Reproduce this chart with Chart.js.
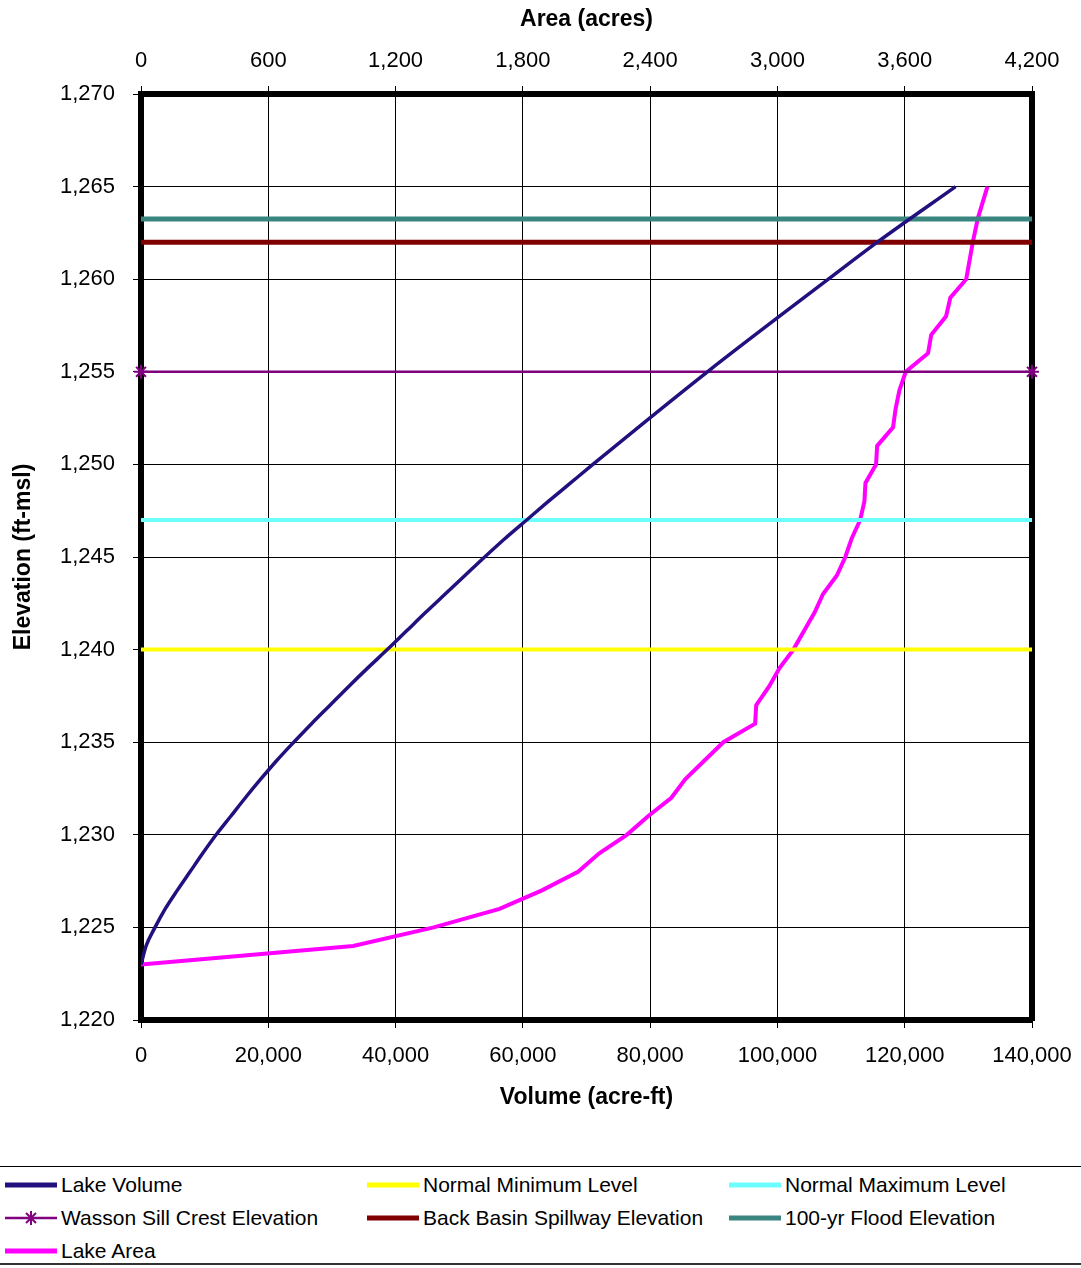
<!DOCTYPE html>
<html>
<head>
<meta charset="utf-8">
<script src="https://cdn.jsdelivr.net/npm/chart.js@4/dist/chart.umd.min.js"></script>
<style>
    body { margin: 0; background: #fff; font-family: "Liberation Sans", Arial, sans-serif; }
    .wrap { position: relative; width: 1081px; height: 1268px; }
    .chart-box { position: absolute; left: 0; top: 0; width: 1081px; height: 1130px; }
    .legend { position: absolute; left: 0; top: 1166px; width: 1081px; height: 99px;
        border-top: 1px solid #000; border-bottom: 2px solid #333; box-sizing: border-box; }
    .legend-item { position: absolute; height: 30px; display: flex; align-items: center;
        font-size: 21px; color: #000; white-space: nowrap; }
    .legend-item canvas { margin-right: 2px; }
</style>
</head>
<body>
<div class="wrap">
    <div class="chart-box"><canvas id="lakeChart"></canvas></div>
    <div class="legend"></div>
</div>
<script>
// elevation (ft-msl) vs storage volume (acre-ft)
const volumeElev = [1223, 1224, 1225, 1226, 1227, 1228, 1229, 1230, 1231, 1232, 1233, 1234, 1235, 1236,
    1237, 1238, 1239, 1240, 1241, 1242, 1243, 1244, 1245, 1246, 1247, 1248, 1249, 1250, 1255, 1260, 1262, 1265];
const volumeValues = [0, 800, 2200, 3800, 5700, 7700, 9700, 11800, 14100, 16400, 18800, 21300, 24000, 26800,
    29700, 32600, 35600, 38700, 41700, 44700, 47800, 50900, 54000, 57200, 60600, 64000, 67500, 71000,
    89000, 108000, 115700, 128000];

// elevation (ft-msl) vs lake surface area (acres)
const areaElev = [1223, 1224, 1225, 1226, 1227, 1228, 1229, 1230, 1231, 1232, 1233, 1234, 1235, 1236, 1237,
    1238, 1239, 1240, 1241, 1242, 1243, 1244, 1245, 1246, 1247, 1248, 1249, 1250, 1251, 1252, 1253, 1254,
    1255, 1256, 1257, 1258, 1259, 1260, 1262, 1263.3, 1265];
const areaValues = [0, 1000, 1380, 1690, 1890, 2060, 2160, 2290, 2390, 2500, 2565, 2655, 2745, 2895, 2900,
    2960, 3010, 3075, 3125, 3175, 3215, 3280, 3320, 3350, 3390, 3410, 3415, 3465, 3470, 3545, 3557, 3575,
    3605, 3710, 3725, 3795, 3815, 3890, 3921, 3945, 3990];

// reference levels
const levelNames = ["Normal Minimum Level", "Normal Maximum Level", "Wasson Sill Crest Elevation",
    "Back Basin Spillway Elevation", "100-yr Flood Elevation"];
const levelElev = [1240, 1247, 1255, 1262, 1263.25];
const levelSpan = [0, 140000];

const volumeTicks = [0, 140000, 20000];
const areaTicks = [0, 4200, 600];
const elevTicks = [1220, 1270, 5];

const FONT = '"Liberation Sans", Arial, sans-serif';
Chart.defaults.font.family = FONT;
Chart.defaults.color = '#000';

function pairs(xs, ys) {
    const out = [];
    for (let i = 0; i < xs.length; i++) {
        out.push({ x: xs[i], y: ys[i] });
    }
    return out;
}

function levelLine(i, color, width, extra) {
    return Object.assign({
        label: levelNames[i],
        data: levelSpan.map(v => ({ x: v, y: levelElev[i] })),
        borderColor: color,
        backgroundColor: color,
        borderWidth: width,
        pointRadius: 0,
        xAxisID: 'x',
        yAxisID: 'y'
    }, extra || {});
}

const datasets = [
    {
        label: 'Lake Volume',
        data: pairs(volumeValues, volumeElev),
        borderColor: '#22107f',
        backgroundColor: '#22107f',
        borderWidth: 3.5,
        pointRadius: 0,
        cubicInterpolationMode: 'monotone',
        xAxisID: 'x',
        yAxisID: 'y'
    },
    levelLine(0, '#ffff00', 4),
    levelLine(1, '#6cffff', 4),
    levelLine(2, '#800080', 2.5, {
        pointStyle: 'star', pointRadius: 7, pointBorderWidth: 2, clip: false
    }),
    levelLine(3, '#800000', 5),
    levelLine(4, '#3a8580', 5),
    {
        label: 'Lake Area',
        data: pairs(areaValues, areaElev),
        borderColor: '#ff00ff',
        backgroundColor: '#ff00ff',
        borderWidth: 4,
        pointRadius: 0,
        xAxisID: 'x2',
        yAxisID: 'y'
    }
];

const tickFont = { size: 22, family: FONT };
const titleFont = { size: 23, weight: 'bold', family: FONT };

const chart = new Chart(document.getElementById('lakeChart'), {
    type: 'line',
    data: { datasets: datasets },
    options: {
        responsive: true,
        maintainAspectRatio: false,
        devicePixelRatio: 1,
        animation: false,
        layout: { padding: 0 },
        plugins: { legend: { display: false }, tooltip: { enabled: false } },
        scales: {
            x: {
                type: 'linear', position: 'bottom',
                min: volumeTicks[0], max: volumeTicks[1],
                ticks: { stepSize: volumeTicks[2], font: tickFont, padding: 15, maxRotation: 0 },
                grid: { color: '#000', lineWidth: 1, tickLength: 8, tickColor: '#000' },
                border: { width: 6, color: '#000' },
                title: { display: true, text: 'Volume (acre-ft)', font: titleFont, padding: { top: 0, bottom: 19 } },
                afterFit: s => { s.height = 110; s.paddingLeft = 0; s.paddingRight = 0; }
            },
            x2: {
                type: 'linear', position: 'top',
                min: areaTicks[0], max: areaTicks[1],
                ticks: { stepSize: areaTicks[2], font: tickFont, padding: 12, maxRotation: 0 },
                grid: { drawOnChartArea: false, tickLength: 8, tickColor: '#000' },
                border: { width: 6, color: '#000' },
                title: { display: true, text: 'Area (acres)', font: titleFont, padding: { top: 6, bottom: 0 } },
                afterFit: s => { s.height = 94; s.paddingLeft = 0; s.paddingRight = 0; }
            },
            y: {
                type: 'linear', position: 'left',
                min: elevTicks[0], max: elevTicks[1],
                ticks: { stepSize: elevTicks[2], font: tickFont, padding: 18 },
                grid: { color: '#000', lineWidth: 1, tickLength: 8, tickColor: '#000' },
                border: { width: 6, color: '#000' },
                title: { display: true, text: 'Elevation (ft-msl)', font: titleFont, padding: { top: 10, bottom: 0 } },
                afterFit: s => { s.width = 141; }
            },
            y2: {
                type: 'linear', position: 'right',
                min: elevTicks[0], max: elevTicks[1],
                ticks: { display: false },
                grid: { drawOnChartArea: false, drawTicks: false },
                border: { width: 6, color: '#000' },
                afterFit: s => { s.width = 49; }
            }
        }
    }
});

// legend laid out in three columns like the original
const legendBox = document.querySelector('.legend');
const colX = [5, 367, 729];
const rowY = [3, 36, 69];
chart.data.datasets.forEach((ds, i) => {
    const item = document.createElement('div');
    item.className = 'legend-item';
    item.style.left = colX[i % 3] + 'px';
    item.style.top = rowY[Math.floor(i / 3)] + 'px';
    const sample = document.createElement('canvas');
    sample.width = 54;
    sample.height = 30;
    const ctx = sample.getContext('2d');
    ctx.strokeStyle = ds.borderColor;
    ctx.lineWidth = ds.pointStyle ? 2.5 : 5;
    ctx.beginPath();
    ctx.moveTo(0, 15);
    ctx.lineTo(52, 15);
    ctx.stroke();
    if (ds.pointStyle) {
        ctx.lineWidth = 2;
        Chart.helpers.drawPoint(ctx, { pointStyle: ds.pointStyle, radius: 7, rotation: 0, borderWidth: 2 }, 26, 15);
    }
    item.appendChild(sample);
    const txt = document.createElement('span');
    txt.textContent = ds.label;
    item.appendChild(txt);
    legendBox.appendChild(item);
});
</script>
</body>
</html>
